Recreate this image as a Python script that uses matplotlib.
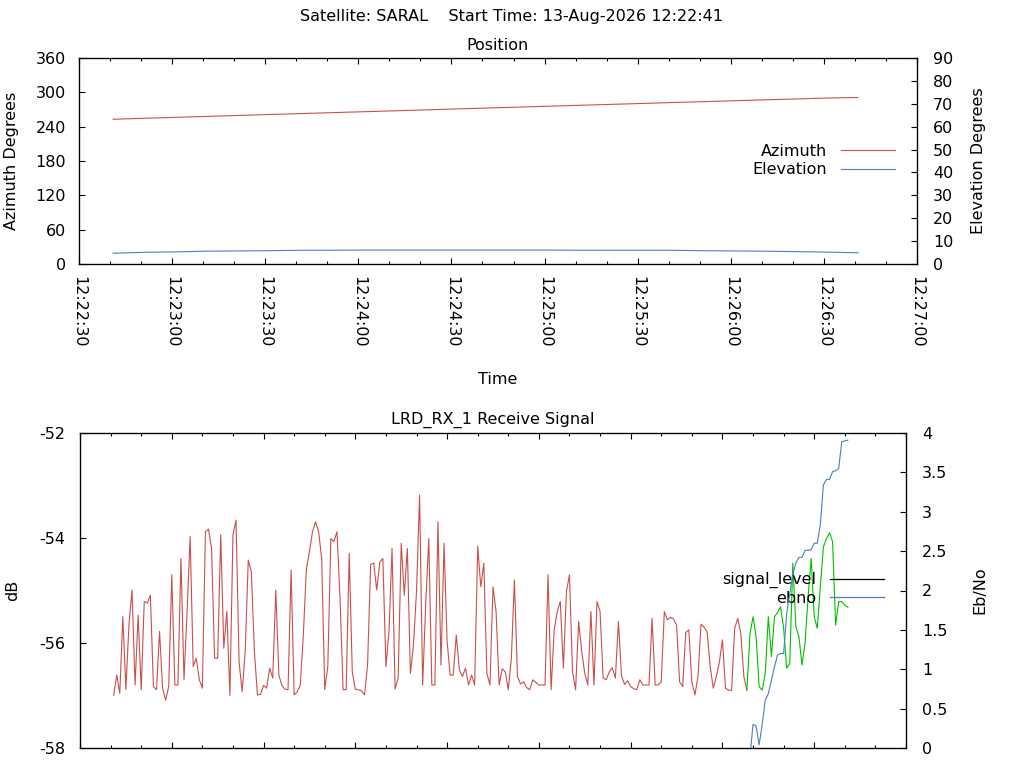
import pandas as pd
import matplotlib
matplotlib.use('Agg')
import matplotlib.pyplot as plt
import matplotlib.dates as mdates
from matplotlib.lines import Line2D

plt.rcParams['font.family'] = ['DejaVu Sans']
plt.rcParams['font.size'] = 11.5
plt.rcParams['axes.unicode_minus'] = False

RED = '#c8504c'
BLUE = '#4a7fc0'
GREEN = '#00c000'

start = pd.Timestamp('2026-08-13 12:22:41')
x_from = pd.Timestamp('2026-08-13 12:22:30')
x_to = pd.Timestamp('2026-08-13 12:27:00')

# position, read every 10 s
pos_time = pd.date_range(start, periods=25, freq='10s')
azimuth = [253.0, 254.6, 256.3, 257.9, 259.5, 261.2, 262.8, 264.4, 266.0, 267.6,
           269.2, 270.9, 272.5, 274.1, 275.7, 277.3, 278.9, 280.5, 282.1, 283.7,
           285.3, 286.9, 288.4, 290.0, 291.0]
elevation = [4.7, 5.1, 5.3, 5.6, 5.7, 5.8, 6.0, 6.0, 6.1, 6.1,
             6.1, 6.1, 6.1, 6.1, 6.1, 6.0, 6.0, 6.0, 6.0, 5.8,
             5.7, 5.6, 5.4, 5.2, 4.9]

# receiver, one sample per second
sig_time = pd.date_range(start, periods=241, freq='1s')
signal_level = [
    -57.00, -56.61, -56.96, -55.50, -56.88, -55.66, -54.99, -56.80, -55.47, -56.89,
    -55.21, -55.24, -55.09, -56.83, -56.89, -55.78, -56.86, -57.09, -56.83, -54.70,
    -56.80, -56.80, -54.39, -56.70, -55.40, -53.97, -56.45, -56.29, -56.70, -56.86,
    -53.88, -53.83, -54.20, -56.29, -56.29, -53.94, -56.10, -55.40, -57.00, -53.94,
    -53.66, -56.36, -56.93, -56.16, -54.42, -54.64, -56.16, -56.99, -56.98, -56.81,
    -56.86, -56.48, -56.67, -54.99, -56.61, -56.81, -56.88, -56.89, -54.61, -56.99,
    -56.93, -56.80, -55.85, -54.59, -54.26, -53.88, -53.69, -53.88, -54.39, -56.89,
    -56.45, -54.01, -54.07, -53.88, -55.15, -56.89, -56.89, -54.29, -56.55, -56.88,
    -56.89, -56.91, -56.99, -56.42, -54.50, -54.48, -54.99, -54.46, -54.39, -56.45,
    -55.78, -54.20, -56.88, -56.67, -54.10, -55.09, -54.20, -56.58, -56.04, -55.02,
    -53.18, -56.80, -55.28, -54.01, -56.80, -56.80, -53.69, -56.42, -54.10, -55.97,
    -56.61, -56.61, -55.85, -56.51, -56.64, -56.48, -56.80, -56.61, -56.80, -54.16,
    -54.93, -54.48, -56.58, -56.80, -54.93, -55.40, -56.80, -56.49, -56.55, -56.89,
    -56.29, -54.80, -56.64, -56.78, -56.74, -56.85, -56.89, -56.70, -56.75, -56.80,
    -56.80, -56.80, -54.70, -56.89, -55.75, -55.40, -55.21, -56.48, -55.02, -54.70,
    -56.55, -56.89, -55.59, -56.16, -56.58, -56.80, -55.40, -56.80, -55.21, -55.40,
    -56.67, -56.70, -56.55, -56.47, -56.67, -55.59, -56.62, -56.79, -56.72, -56.83,
    -56.87, -56.89, -56.70, -56.80, -56.80, -56.80, -55.53, -56.80, -56.80, -56.74,
    -55.40, -55.56, -55.51, -55.54, -55.66, -56.74, -56.83, -55.80, -55.75, -56.74,
    -56.99, -56.64, -55.64, -55.70, -55.79, -56.45, -56.86, -56.64, -56.36, -55.94,
    -56.86, -56.90, -56.90, -55.72, -55.53, -55.82, -56.64, -56.90, -55.82, -55.50,
    -55.88, -56.83, -56.90, -56.58, -55.50, -56.26, -55.50, -55.42, -55.31, -55.72,
    -56.48, -56.39, -54.48, -55.69, -55.88, -56.42, -56.01, -55.12, -54.39, -55.50,
    -55.72, -54.93, -54.17, -54.01, -53.90, -54.07, -55.66, -55.21, -55.21, -55.28,
    -55.32]
locked_from = pd.Timestamp('2026-08-13 12:26:08')

ebno_time = pd.date_range('2026-08-13 12:26:07', periods=35, freq='1s')
ebno = [-0.6, -0.2, -0.1, 0.30, 0.28, 0.04, 0.30, 0.61, 0.69, 0.86,
        1.03, 1.18, 1.20, 1.20, 1.71, 1.96, 2.20, 2.35, 2.42, 2.42,
        2.51, 2.51, 2.52, 2.60, 2.60, 2.84, 3.34, 3.41, 3.41, 3.51,
        3.52, 3.55, 3.89, 3.90, 3.91]

fig = plt.figure(figsize=(10.24, 7.68), dpi=100)
fig.text(0.5, 1 - 17 / 768, 'Satellite: SARAL    Start Time: 13-Aug-2026 12:22:41',
         ha='center', va='center')


def time_axis(ax, labels):
    ax.set_xlim(x_from, x_to)
    ax.xaxis.set_major_locator(mdates.SecondLocator(bysecond=[0, 30]))
    ax.xaxis.set_minor_locator(mdates.SecondLocator(bysecond=[10, 20, 40, 50]))
    ax.xaxis.set_major_formatter(mdates.DateFormatter('%H:%M:%S'))
    ax.tick_params(axis='x', which='both', direction='in', top=True, labelbottom=labels,
                   pad=8.6)
    ax.tick_params(axis='x', which='major', length=4.5, width=0.8)
    ax.tick_params(axis='x', which='minor', length=2.2, width=0.8)
    if labels:
        for t in ax.get_xticklabels():
            t.set_rotation(-90)
            t.set_va('top')
            t.set_ha('center')
    for s in ax.spines.values():
        s.set_linewidth(0.9)


# ---- Position ----
ax = fig.add_axes([79 / 1024, 1 - 264 / 768, 838 / 1024, 206 / 768])
ax2 = ax.twinx()
az_line, = ax.plot(pos_time, azimuth, color=RED, lw=0.8)
el_line, = ax2.plot(pos_time, elevation, color=BLUE, lw=0.8)
time_axis(ax, True)
ax.set_ylim(0, 360)
ax.set_yticks(range(0, 361, 60))
ax2.set_ylim(0, 90)
ax2.set_yticks(range(0, 91, 10))
ax.tick_params(axis='y', direction='in', length=4.5, width=0.8, pad=9.4)
ax2.tick_params(axis='y', direction='in', length=4.5, width=0.8, pad=11.5)
ax.set_ylabel('Azimuth Degrees')
ax.yaxis.set_label_coords(-0.0716, 0.5)
ax2.set_ylabel('Elevation Degrees')
ax2.yaxis.set_label_coords(1.0644, 0.5)
ax.set_xlabel('Time')
ax.xaxis.set_label_coords(0.5, -0.524)
ax.text(0.5, 1 + 12 / 206, 'Position', transform=ax.transAxes, ha='center', va='center')
ax2.legend([az_line, el_line], ['Azimuth', 'Elevation'], loc='center right',
           bbox_to_anchor=(0.9737, 0.502), frameon=False, markerfirst=False,
           handlelength=3.4, handletextpad=0.85, labelspacing=0.2,
           borderpad=0, borderaxespad=0)

# ---- Receive signal ----
bx = fig.add_axes([80 / 1024, 1 - 748 / 768, 826 / 1024, 315 / 768])
bx2 = bx.twinx()
sig = pd.Series(signal_level, index=sig_time)
bx.plot(sig[sig.index <= locked_from], color=RED, lw=0.8)
bx.plot(sig[sig.index >= locked_from], color=GREEN, lw=0.8)
bx2.plot(ebno_time, ebno, color=BLUE, lw=0.8)
time_axis(bx, False)
bx.set_ylim(-58, -52)
bx.set_yticks([-58, -56, -54, -52])
bx2.set_ylim(0, 4)
bx2.set_yticks([0, 0.5, 1, 1.5, 2, 2.5, 3, 3.5, 4])
bx2.set_yticklabels(['0', '0.5', '1', '1.5', '2', '2.5', '3', '3.5', '4'])
bx.tick_params(axis='y', direction='in', length=4.5, width=0.8, pad=10.8)
bx2.tick_params(axis='y', direction='in', length=4.5, width=0.8, pad=11.5)
bx.set_ylabel('dB')
bx.yaxis.set_label_coords(-0.0726, 0.5)
bx2.set_ylabel('Eb/No')
bx2.yaxis.set_label_coords(1.080, 0.5)
bx.text(0.5, 1 + 13 / 315, 'LRD_RX_1 Receive Signal', transform=bx.transAxes,
        ha='center', va='center')
key = [Line2D([], [], color='black', lw=0.9), Line2D([], [], color=BLUE, lw=0.9)]
leg = bx2.legend(key, ['signal_level', 'ebno'], loc='center right',
                 bbox_to_anchor=(0.9734, 0.505), frameon=False, markerfirst=False,
                 handlelength=3.4, handletextpad=0.85, labelspacing=0.15,
                 borderpad=0, borderaxespad=0)
leg.set_zorder(0)

fig.savefig('out.png', dpi=100)
